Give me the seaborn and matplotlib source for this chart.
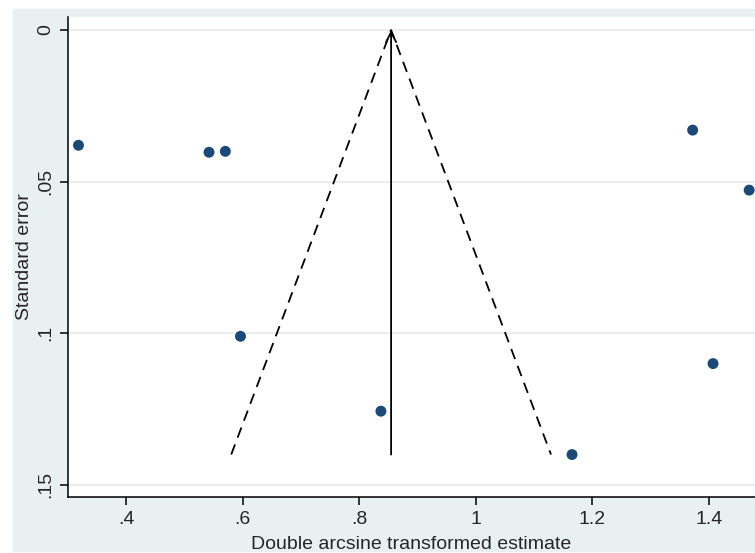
import seaborn as sns
import matplotlib.pyplot as plt
import pandas as pd
from matplotlib.patches import Rectangle

# study estimates (double arcsine) and standard errors
estimate = [0.318, 0.542, 0.570, 0.596, 0.837, 1.165, 1.372, 1.469, 1.407]
std_err = [0.038, 0.0403, 0.040, 0.101, 0.1257, 0.140, 0.033, 0.0528, 0.110]
pooled = 0.8545

x_ticks = [0.4, 0.6, 0.8, 1.0, 1.2, 1.4]
x_labels = [".4", ".6", ".8", "1", "1.2", "1.4"]
y_ticks = [0, 0.05, 0.1, 0.15]
y_labels = ["0", ".05", ".1", ".15"]

df = pd.DataFrame({"est": estimate, "se": std_err})

sns.set_style("white")
plt.rcParams["font.family"] = ["Liberation Sans", "DejaVu Sans"]

fig = plt.figure(figsize=(7.55, 5.53), dpi=100)
fig.patch.set_facecolor("white")
fig.patches.append(Rectangle((13 / 755, 2 / 553), 742 / 755, 542 / 553,
                             transform=fig.transFigure, color="#E9F0F2", zorder=-10))

ax = fig.add_axes([68 / 755, 56 / 553, 1 - 68 / 755, 480 / 553])
ax.set_facecolor("white")

# funnel: pseudo 95% limits
se_max = max(std_err)
ax.plot([pooled - 1.96 * se_max, pooled, pooled + 1.96 * se_max],
        [se_max, 0, se_max], color="black", lw=1.3, dashes=(6, 4), zorder=2)
ax.annotate("", xy=(pooled, 0), xytext=(pooled, se_max),
            arrowprops=dict(arrowstyle="->", color="black", lw=1.3,
                            mutation_scale=18, shrinkA=0, shrinkB=0), zorder=2)

sns.scatterplot(data=df, x="est", y="se", ax=ax, color="#1B4A78",
                s=62, edgecolor="none", zorder=3, clip_on=False)

ax.set_xlim(0.300, 1.479)
ax.set_ylim(0.154, -0.0043)

ax.set_xticks(x_ticks)
ax.set_xticklabels(x_labels, fontsize=14)
ax.set_yticks(y_ticks)
ax.set_yticklabels(y_labels, fontsize=14, rotation=90, va="center")

for t in y_ticks:
    ax.axhline(t, color="#EAEAEA", lw=1.2, zorder=1)

ax.tick_params(axis="both", direction="out", length=6, width=1.1, color="black",
               bottom=True, left=True, pad=4)

ax.spines["top"].set_visible(False)
ax.spines["right"].set_visible(False)
ax.spines["left"].set_color("black")
ax.spines["bottom"].set_color("black")
ax.spines["left"].set_linewidth(1.1)
ax.spines["bottom"].set_linewidth(1.1)

ax.set_xlabel("Double arcsine transformed estimate", fontsize=14, labelpad=6)
ax.set_ylabel("Standard error", fontsize=14, labelpad=3)

fig.savefig("out.png", dpi=100)
